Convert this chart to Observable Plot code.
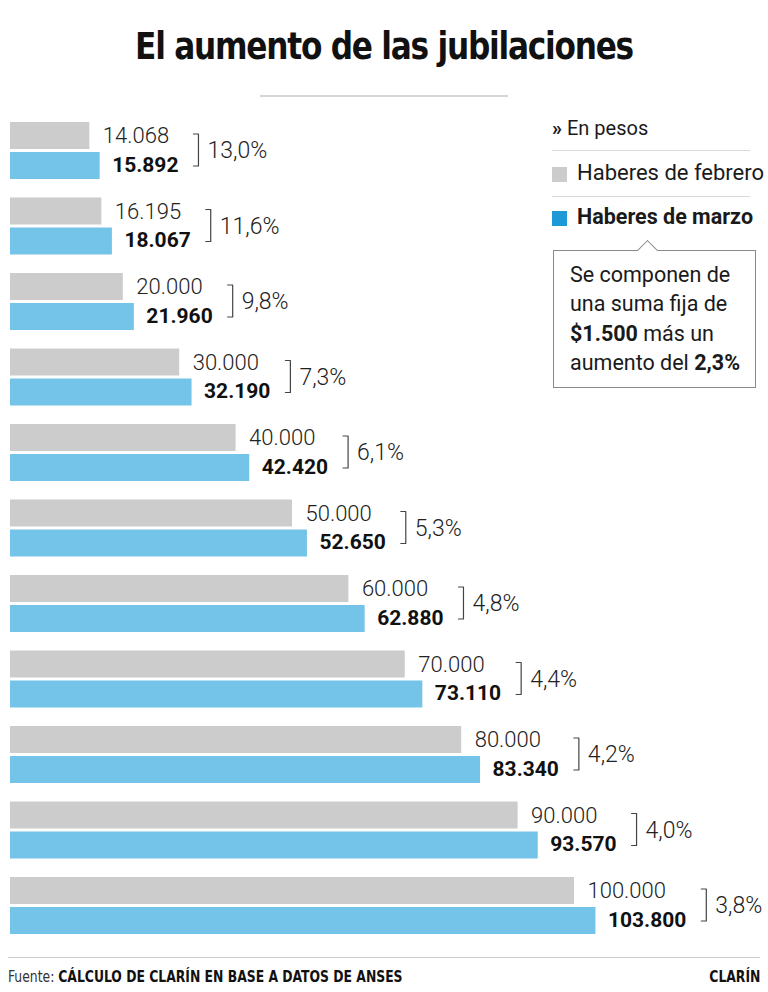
<!DOCTYPE html>
<html>
<head>
<meta charset="utf-8">
<script src="https://cdn.jsdelivr.net/npm/d3@7"></script>
<script src="https://cdn.jsdelivr.net/npm/@observablehq/plot@0.6"></script>
<style>
  html, body { margin: 0; padding: 0; background: #fff; }
  #page { position: relative; width: 768px; height: 992px; overflow: hidden; font-family: Roboto, "Noto Sans", sans-serif; color: #1a1a1a; }
  #title { position: absolute; left: 0; width: 768px; top: 25px; text-align: center; }
  #title span { display: inline-block; transform: scaleX(0.95); transform-origin: center; font-family: "DejaVu Sans Condensed", sans-serif; font-weight: 700; font-size: 36.5px; letter-spacing: -1.3px; color: #111; }
  #rule { position: absolute; left: 260px; width: 248px; top: 95px; height: 2px; background: #d6d6d6; }
  #chart { position: absolute; left: 0; top: 100px; }
  .lg { position: absolute; left: 552px; font-size: 22px; white-space: nowrap; }
  .sep { position: absolute; left: 552px; width: 198px; height: 1px; background: #d9d9d9; }
  .sw { position: absolute; left: 552px; width: 15px; height: 15px; }
  #note { position: absolute; left: 553px; top: 250px; width: 203px; height: 138px; border: 1px solid #8a8a8a; box-sizing: border-box; background: #fff; }
  #note .ptr { position: absolute; left: 86px; top: -8px; width: 14px; height: 14px; background: #fff; border-left: 1px solid #8a8a8a; border-top: 1px solid #8a8a8a; transform: rotate(45deg); }
  #note .txt { position: absolute; left: 16px; top: 9px; font-size: 21.5px; line-height: 29.3px; color: #1a1a1a; white-space: nowrap; }
  #footline { position: absolute; left: 8px; width: 752px; top: 957px; height: 1px; background: #cfcfcf; }
  .foot { position: absolute; top: 967px; font-family: "DejaVu Sans Condensed", sans-serif; font-size: 16px; color: #111; white-space: nowrap; transform: scaleX(0.86); }
</style>
</head>
<body>
<div id="page">
  <div id="title"><span>El aumento de las jubilaciones</span></div>
  <div id="rule"></div>
  <div id="chart"></div>

  <div class="lg" style="top:116px;font-size:20px;"><b>»</b> En pesos</div>
  <div class="sep" style="top:150px;"></div>
  <div class="sw" style="top:167px;background:#cccccc;"></div>
  <div class="lg" style="top:160px;left:577px;">Haberes de febrero</div>
  <div class="sep" style="top:196px;"></div>
  <div class="sw" style="top:211px;background:#1d9ad6;"></div>
  <div class="lg" style="top:204px;left:577px;font-weight:700;font-size:21.5px;">Haberes de marzo</div>
  <div id="note"><div class="ptr"></div><div class="txt">Se componen de<br>una suma fija de<br><b>$1.500</b> más un<br>aumento del <b>2,3%</b></div></div>

  <div id="footline"></div>
  <div class="foot" style="left:8px;transform-origin:left center;"><span style="font-weight:400;color:#333;">Fuente: </span><b>CÁLCULO DE CLARÍN EN BASE A DATOS DE ANSES</b></div>
  <div class="foot" style="right:8px;transform-origin:right center;"><b>CLARÍN</b></div>
</div>
<script>
// ---- data ----
const febrero = [14068, 16195, 20000, 30000, 40000, 50000, 60000, 70000, 80000, 90000, 100000];
const marzo   = [15892, 18067, 21960, 32190, 42420, 52650, 62880, 73110, 83340, 93570, 103800];
const aumento = ["13,0%", "11,6%", "9,8%", "7,3%", "6,1%", "5,3%", "4,8%", "4,4%", "4,2%", "4,0%", "3,8%"];

// ---- layout constants ----
const W = 768, H = 845;
const mL = 10, mR = 81.2, xMax = 120000;
const STEP = 75.5, BAR = 27, GAP = 3, TOP = 22;
const PX = (W - mL - mR) / xMax; // pixels per peso
const u = px => px / STEP;       // pixels -> y units

const loc = d3.formatLocale({decimal: ",", thousands: ".", grouping: [3], currency: ["$", ""]});
const fmt = loc.format(",d");

const ctx = document.createElement("canvas").getContext("2d");
function tw(text, weight, size) {
  ctx.font = `${weight} ${size}px Roboto`;
  return ctx.measureText(text).width;
}

const GFS = 22, BFS = 21, PFS = 23;
const rows = febrero.map((f, i) => {
  const m = marzo[i];
  const endG = f + (13 + tw(fmt(f), 300, GFS)) / PX;
  const endB = m + (12 + tw(fmt(m), 700, BFS)) / PX;
  const xb = Math.max(endG, endB) + 20 / PX;
  return {i, feb: f, mar: m, pct: aumento[i], xb};
});
const brackets = rows.flatMap(r => [
  {i: r.i, x: r.xb - 5 / PX, y: r.i + u(11.5)},
  {i: r.i, x: r.xb, y: r.i + u(11.5)},
  {i: r.i, x: r.xb, y: r.i + u(43.5)},
  {i: r.i, x: r.xb - 5 / PX, y: r.i + u(43.5)}
]);

const chart = Plot.plot({
  width: W, height: H,
  marginLeft: mL, marginRight: mR, marginTop: 0, marginBottom: 0,
  x: {domain: [0, xMax], axis: null},
  y: {domain: [0, febrero.length], range: [TOP, TOP + febrero.length * STEP], axis: null},
  style: {fontFamily: "Roboto", background: "transparent", overflow: "visible", color: "#1a1a1a"},
  marks: [
    Plot.rect(rows, {x1: 0, x2: "feb", y1: d => d.i, y2: d => d.i + u(BAR), fill: "#cccccc"}),
    Plot.rect(rows, {x1: 0, x2: "mar", y1: d => d.i + u(BAR + GAP), y2: d => d.i + u(2 * BAR + GAP), fill: "#74c3e8"}),
    Plot.text(rows, {x: "feb", y: d => d.i + u(BAR / 2), text: d => fmt(d.feb), textAnchor: "start", dx: 13, fontSize: GFS, fontWeight: 300, fill: "#222"}),
    Plot.text(rows, {x: "mar", y: d => d.i + u(BAR + GAP + BAR / 2), text: d => fmt(d.mar), textAnchor: "start", dx: 12, dy: -1, fontSize: BFS, fontWeight: 700, fill: "#111"}),
    Plot.line(brackets, {x: "x", y: "y", z: "i", stroke: "#444", strokeWidth: 1.2}),
    Plot.text(rows, {x: "xb", y: d => d.i + u(28.5), text: "pct", textAnchor: "start", dx: 9, fontSize: PFS, fontWeight: 300, fill: "#222"})
  ]
});
document.getElementById("chart").appendChild(chart);
</script>
</body>
</html>
